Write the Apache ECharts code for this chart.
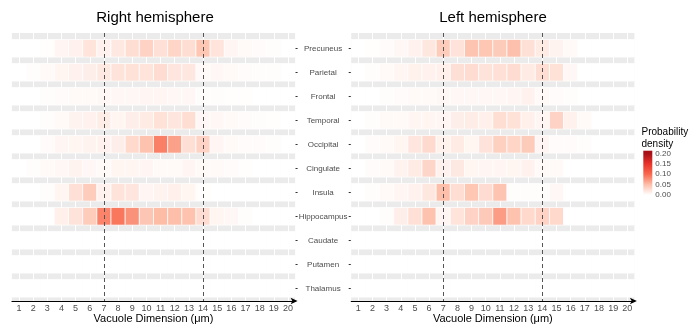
<!DOCTYPE html>
<html><head><meta charset="utf-8">
<script src="https://cdn.jsdelivr.net/npm/echarts@6/dist/echarts.min.js"></script>
<style>html,body{margin:0;padding:0;background:#fff}#c{width:695px;height:325px}</style>
</head><body><div id="c"></div>
<script>
// ---------- data ----------
const regions = ['Precuneus','Parietal','Frontal','Temporal','Occipital','Cingulate','Insula','Hippocampus','Caudate','Putamen','Thalamus'];
const dimensions = ['1','2','3','4','5','6','7','8','9','10','11','12','13','14','15','16','17','18','19','20'];
const referenceLines = ['7','14'];
const legendTicks = [0, 0.05, 0.10, 0.15, 0.20];

// probability density per region (rows) x vacuole dimension 1..20 (columns)
const densityRight = [
  [0,0,0.001,0.007,0.010,0.021,0.010,0.017,0.026,0.035,0.024,0.033,0.026,0.044,0.021,0.007,0.005,0.003,0.002,0],
  [0,0.002,0.004,0.008,0.010,0.013,0.017,0.022,0.023,0.021,0.027,0.020,0.019,0.005,0.006,0.005,0.003,0.002,0.002,0],
  [0,0,0.002,0.003,0.004,0.005,0.006,0.006,0.006,0.007,0.007,0.006,0.006,0.002,0.002,0.001,0.001,0,0,0],
  [0,0,0.002,0.004,0.009,0.010,0.015,0.008,0.013,0.016,0.023,0.020,0.026,0.006,0.006,0.004,0.003,0.002,0.001,0],
  [0,0,0.003,0.007,0.008,0.009,0.010,0.013,0.030,0.047,0.087,0.068,0.025,0.034,0.007,0.004,0.003,0.003,0.002,0],
  [0,0.002,0.004,0.006,0.009,0.006,0.005,0.008,0.008,0.007,0.005,0.005,0.007,0.005,0.005,0.003,0.001,0,0,0],
  [0,0,0.002,0.008,0.024,0.040,0.010,0.022,0.020,0.007,0.009,0.012,0.008,0.001,0,0,0,0,0,0],
  [0,0,0,0.012,0.022,0.040,0.085,0.092,0.076,0.045,0.052,0.050,0.047,0.027,0.008,0.006,0.002,0,0,0],
  [0,0,0,0,0,0,0,0,0,0,0,0,0,0,0,0,0,0,0,0],
  [0,0,0,0,0,0,0,0,0,0,0,0,0,0,0,0,0,0,0,0],
  [0,0,0,0,0,0,0,0,0,0,0,0,0,0,0,0,0,0,0,0]
];
const densityLeft = [
  [0,0.001,0.003,0.006,0.010,0.019,0.040,0.022,0.046,0.044,0.041,0.049,0.024,0.016,0.009,0.005,0,0,0,0],
  [0,0.002,0.004,0.007,0.011,0.010,0.012,0.025,0.027,0.022,0.024,0.027,0.016,0.026,0.023,0.006,0,0,0,0],
  [0,0,0.002,0.003,0.005,0.005,0.006,0.006,0.006,0.006,0.006,0.007,0.010,0.004,0.003,0.002,0,0,0,0],
  [0,0.002,0.004,0.005,0.007,0.008,0.007,0.013,0.015,0.012,0.026,0.023,0.012,0.007,0.034,0.011,0.005,0,0,0],
  [0,0.003,0.005,0.008,0.020,0.029,0.011,0.016,0.008,0.022,0.037,0.033,0.041,0.007,0.003,0.003,0.002,0,0,0],
  [0,0.003,0.004,0.009,0.016,0.032,0.010,0.017,0.008,0.007,0.007,0.008,0.010,0.004,0.004,0,0,0,0,0],
  [0,0.002,0.004,0.007,0.010,0.019,0.050,0.026,0.044,0.027,0.046,0.002,0.002,0.002,0.006,0,0,0,0,0],
  [0,0,0.002,0.013,0.024,0.047,0.007,0.021,0.035,0.042,0.070,0.047,0.030,0.035,0.030,0,0,0,0,0],
  [0,0,0,0,0,0,0,0,0,0,0,0,0,0,0,0,0,0,0,0],
  [0,0,0,0,0,0,0,0,0,0,0,0,0,0,0,0,0,0,0,0],
  [0,0,0,0,0,0,0,0,0,0,0,0,0,0,0,0,0,0,0,0]
];

// ---------- style ----------
const FONT = 'Liberation Sans, Arial, sans-serif';
const scaleColors = ['#FFFFFF','#FDBFAA','#F8694E','#E8322A','#A50F15'];
const scaleMax = 0.20;
const legendMax = 0.2125;
const TILE_H = 0.733;
const regionIdx = regions.map((_, i) => i);

function toTiles(matrix) {
  const out = [];
  matrix.forEach((row, r) => row.forEach((v, c) => out.push([c, r, v])));
  return out;
}

function renderTile(params, api) {
  const c = api.coord([api.value(0), api.value(1)]);
  const s = api.size([1, TILE_H]);
  return {
    type: 'rect',
    shape: { x: c[0] - s[0] / 2, y: c[1] - s[1] / 2, width: s[0], height: s[1] },
    style: { fill: api.visual('color'), stroke: '#ffffff', lineWidth: 0.7 }
  };
}

function makeX(gi) {
  return {
    type: 'category', gridIndex: gi, data: dimensions, boundaryGap: true, position: 'bottom',
    axisLine: { show: true, onZero: false, lineStyle: { color: '#000', width: 1 }, symbol: ['none', 'arrow'], symbolSize: [5, 7], symbolOffset: [0, 2.5] },
    axisTick: { show: false },
    axisLabel: { color: '#4d4d4d', fontSize: 9, margin: 3, interval: 0, fontFamily: FONT },
    splitLine: { show: true, interval: 0, alignWithLabel: true, lineStyle: { color: '#ffffff', width: 1 } },
    name: 'Vacuole Dimension (\u03bcm)', nameLocation: 'middle', nameGap: 12, nameMoveOverlap: false,
    nameTextStyle: { fontSize: 11, color: '#000', fontFamily: FONT }
  };
}
function makeY(gi, position, showLabels) {
  return {
    type: 'value', gridIndex: gi, inverse: true, min: -0.6375, max: 10.529, position: position,
    axisLine: { show: false, onZero: false }, splitLine: { show: false },
    axisTick: { show: true, length: 2.5, lineStyle: { color: '#333' }, customValues: regionIdx },
    axisLabel: { show: showLabels, customValues: regionIdx, formatter: v => regions[Math.round(v)],
      color: '#4d4d4d', fontSize: 8, align: 'center', margin: 28, fontFamily: FONT }
  };
}

const gradStops = legendTicks.map((t, i) => ({ offset: t / legendMax, color: scaleColors[i] }));
gradStops.push({ offset: 1, color: scaleColors[scaleColors.length - 1] });

const markLineCfg = {
  silent: true, symbol: ['none', 'none'], label: { show: false },
  lineStyle: { color: '#555', width: 1, type: [4, 3] },
  data: referenceLines.map(v => ({ xAxis: v }))
};

const titleStyle = { fontSize: 15, fontWeight: 'normal', color: '#000', fontFamily: FONT };
const gridBase = { outerBoundsMode: 'none', containLabel: false, borderWidth: 0 };
const option = {
  animation: false,
  backgroundColor: '#ffffff',
  textStyle: { fontFamily: FONT },
  title: [
    { text: 'Right hemisphere', left: 155, top: 10, padding: 0, textAlign: 'center', textStyle: titleStyle },
    { text: 'Left hemisphere', left: 493, top: 10, padding: 0, textAlign: 'center', textStyle: titleStyle },
    { text: 'Probability\ndensity', left: 641.5, top: 126, padding: 0,
      textStyle: { fontSize: 10, lineHeight: 12, fontWeight: 'normal', color: '#000', fontFamily: FONT } }
  ],
  grid: [
    Object.assign({ left: 11.9, top: 33, width: 283.2, height: 268, show: true, backgroundColor: '#EBEBEB' }, gridBase),
    Object.assign({ left: 351.2, top: 33, width: 283.2, height: 268, show: true, backgroundColor: '#EBEBEB' }, gridBase),
    Object.assign({ left: 643.3, top: 150.7, width: 9, height: 44.3 }, gridBase)
  ],
  xAxis: [
    makeX(0), makeX(1),
    { type: 'category', gridIndex: 2, data: [''], show: false }
  ],
  yAxis: [
    makeY(0, 'right', true), makeY(1, 'left', false),
    { type: 'value', gridIndex: 2, min: 0, max: legendMax, interval: 0.05, position: 'right',
      axisLine: { show: false }, axisTick: { show: false }, splitLine: { show: false },
      axisLabel: { fontSize: 8, color: '#4d4d4d', margin: 3, showMaxLabel: false, formatter: v => v.toFixed(2), fontFamily: FONT } }
  ],
  visualMap: {
    type: 'continuous', show: false, min: 0, max: scaleMax, dimension: 2, seriesIndex: [0, 1],
    inRange: { color: scaleColors }
  },
  series: [
    { type: 'custom', name: 'Right', xAxisIndex: 0, yAxisIndex: 0, renderItem: renderTile,
      encode: { x: 0, y: 1 }, data: toTiles(densityRight), markLine: markLineCfg, z: 2 },
    { type: 'custom', name: 'Left', xAxisIndex: 1, yAxisIndex: 1, renderItem: renderTile,
      encode: { x: 0, y: 1 }, data: toTiles(densityLeft), markLine: markLineCfg, z: 2 },
    { type: 'bar', xAxisIndex: 2, yAxisIndex: 2, silent: true, barWidth: '100%', data: [legendMax],
      itemStyle: { color: new echarts.graphic.LinearGradient(0, 1, 0, 0, gradStops) } }
  ]
};
const chart = echarts.init(document.getElementById('c'), null, { renderer: 'canvas' });
chart.setOption(option);
</script></body></html>
